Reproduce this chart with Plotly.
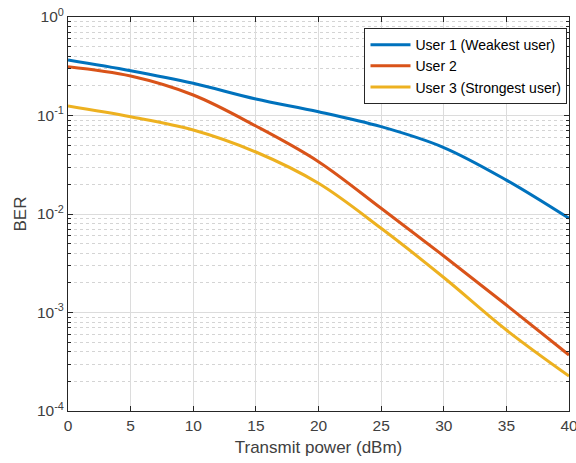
import plotly.graph_objects as go

power_dbm = [0, 5, 10, 15, 20, 25, 30, 35, 40]
ber_user1 = [0.366, 0.285, 0.2123, 0.1471, 0.1093, 0.0770, 0.0473, 0.0221, 0.00904]
ber_user2 = [0.3129, 0.2518, 0.1615, 0.0782, 0.0340, 0.01143, 0.00375, 0.001191, 0.00037]
ber_user3 = [0.1249, 0.0972, 0.0713, 0.0426, 0.0205, 0.00716, 0.002266, 0.000664, 0.0002266]
series_names = ["User 1 (Weakest user)", "User 2", "User 3 (Strongest user)"]
series_colors = ["#0072BD", "#D95319", "#EDB120"]
x_ticks = [0, 5, 10, 15, 20, 25, 30, 35, 40]
y_tickvals = [1e-4, 1e-3, 1e-2, 1e-1, 1]
y_ticktext = ["10<sup>-4</sup>", "10<sup>-3</sup>", "10<sup>-2</sup>", "10<sup>-1</sup>", "10<sup>0</sup>"]
y_minor = [m * 10.0 ** e for e in range(-4, 0) for m in range(2, 10)]

fig = go.Figure()
for name, ys, col in zip(series_names, [ber_user1, ber_user2, ber_user3], series_colors):
    fig.add_trace(go.Scatter(x=power_dbm, y=ys, mode="lines", name=name,
                             line=dict(color=col, width=3, shape="spline", smoothing=1.0)))

axis_col = "#262626"
lab_col = "#404040"
font = "Liberation Sans, Arial, sans-serif"
fig.update_layout(
    width=576, height=463,
    margin=dict(l=68, r=7, t=17, b=52, autoexpand=False),
    paper_bgcolor="white", plot_bgcolor="white",
    font=dict(family=font, color=axis_col),
    showlegend=True,
    legend=dict(x=0.997, y=0.972, xanchor="right", yanchor="top",
                bgcolor="white", bordercolor=axis_col, borderwidth=1,
                font=dict(size=14, family=font, color="#000000"),
                tracegroupgap=0, itemwidth=40),
    xaxis=dict(range=[0, 40], tickvals=x_ticks, ticks="inside", ticklen=5,
               tickcolor=axis_col, showline=True, linecolor=axis_col, linewidth=1,
               mirror="ticks", showgrid=True, gridcolor="#dcdcdc", gridwidth=1,
               zeroline=False, ticklabeloverflow="allow", automargin=False,
               tickfont=dict(size=15.5, color=lab_col),
               title=dict(text="Transmit power (dBm)", font=dict(size=17, color=lab_col), standoff=8)),
    yaxis=dict(type="log", range=[-4, 0], tickvals=y_tickvals, ticktext=y_ticktext,
               ticks="inside", ticklen=5, tickcolor=axis_col, showline=True,
               linecolor=axis_col, linewidth=1, mirror="ticks", showgrid=True,
               gridcolor="#dcdcdc", gridwidth=1, zeroline=False, automargin=False,
               tickfont=dict(size=15.5, color=lab_col),
               title=dict(text="BER", font=dict(size=17, color=lab_col), standoff=6),
               minor=dict(tickvals=y_minor, ticks="inside", ticklen=3, tickcolor=axis_col,
                          showgrid=True, gridcolor="#d4d4d4", griddash="dot", gridwidth=1)),
)
fig.write_html("out.html")
